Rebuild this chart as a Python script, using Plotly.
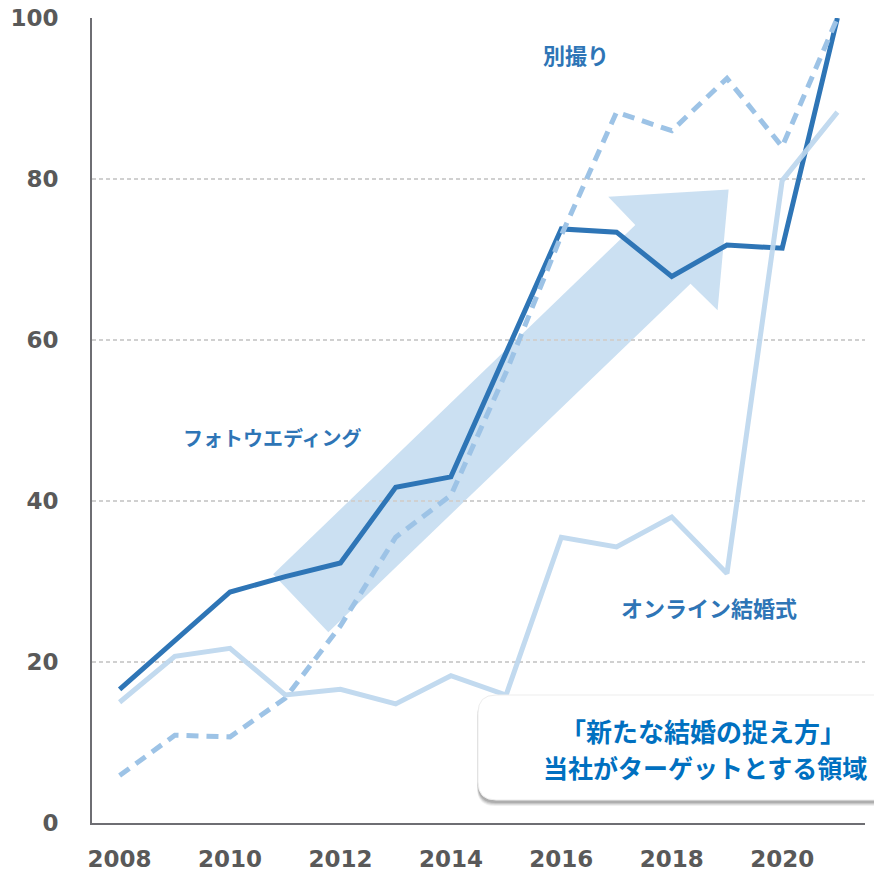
import plotly.graph_objects as go

# ---- data ----
years = [2008, 2009, 2010, 2011, 2012, 2013, 2014, 2015, 2016, 2017, 2018, 2019, 2020, 2021]
photo_wedding = [16.6, 22.7, 28.7, 30.6, 32.3, 41.7, 43.0, 58.4, 73.8, 73.4, 67.9, 71.8, 71.4, 100.0]
betsudori = [5.9, 10.9, 10.7, 15.5, 24.5, 35.5, 40.7, 56.0, 73.0, 88.3, 86.0, 92.5, 84.0, 100.0]
online_wedding = [15.0, 20.7, 21.7, 15.9, 16.6, 14.8, 18.3, 15.9, 35.5, 34.3, 38.0, 31.0, 79.8, 88.3]

tick_vals_x = [2008, 2010, 2012, 2014, 2016, 2018, 2020]
tick_vals_y = [0, 20, 40, 60, 80, 100]

# decorative arrow outline (data coordinates)
arrow_x = [2010.78, 2017.34, 2016.85, 2019.03, 2018.83, 2018.34, 2011.78]
arrow_y = [30.9, 74.3, 77.8, 78.7, 63.7, 67.0, 23.7]

W, H = 874, 880
ML, MR, MT, MB = 92, 9, 18, 57
PW = W - ML - MR
PH = H - MT - MB

JP = "Noto Sans CJK JP"
NUM = "DejaVu Sans"

fig = go.Figure()

fig.add_trace(go.Scatter(x=years, y=photo_wedding, mode="lines",
                         line=dict(color="#2E75B6", width=5), name="フォトウエディング"))
fig.add_trace(go.Scatter(x=years, y=betsudori, mode="lines",
                         line=dict(color="#9DC3E6", width=5, dash="12px,8px"), name="別撮り"))
fig.add_trace(go.Scatter(x=years, y=online_wedding, mode="lines", opacity=0.92,
                         line=dict(color="#BDD7EE", width=5), name="オンライン結婚式"))

# arrow
path = "M " + " L ".join(f"{x},{y}" for x, y in zip(arrow_x, arrow_y)) + " Z"
fig.add_shape(type="path", path=path, xref="x", yref="y", layer="below",
              fillcolor="rgba(189,215,238,0.78)", line=dict(width=0))


def px2paper(px, py):
    return (px - ML) / PW, (MT + PH - py) / PH


def rounded(x0, y0, x1, y1, r):
    def P(x, y):
        a, b = px2paper(x, y)
        return f"{a:.5f},{b:.5f}"
    return (f"M {P(x0 + r, y0)} L {P(x1 - r, y0)} Q {P(x1, y0)} {P(x1, y0 + r)} "
            f"L {P(x1, y1 - r)} Q {P(x1, y1)} {P(x1 - r, y1)} "
            f"L {P(x0 + r, y1)} Q {P(x0, y1)} {P(x0, y1 - r)} "
            f"L {P(x0, y0 + r)} Q {P(x0, y0)} {P(x0 + r, y0)} Z")


# shadow layers
for i, op in enumerate([0.06, 0.08, 0.10, 0.12]):
    d = 6 - i
    fig.add_shape(type="path", xref="paper", yref="paper", layer="above",
                  path=rounded(477 + i * 0.3, 698, 900, 800 + d, 18),
                  fillcolor=f"rgba(0,0,0,{op})", line=dict(width=0))
# box
fig.add_shape(type="path", xref="paper", yref="paper", layer="above",
              path=rounded(478, 695, 900, 800, 18),
              fillcolor="white", line=dict(color="#EDEDED", width=1))

ann_font = dict(family=JP, size=22, color="#2E75B6")
fig.add_annotation(x=2016.26, y=95.5, text="<b>別撮り</b>", showarrow=False, font=ann_font)
fig.add_annotation(x=2010.77, y=47.9, text="<b>フォトウエディング</b>", showarrow=False,
                   font=dict(family=JP, size=20, color="#2E75B6"))
fig.add_annotation(x=2018.68, y=26.8, text="<b>オンライン結婚式</b>", showarrow=False, font=ann_font)

box_font = dict(family=JP, size=25, color="#0070C0")
fig.add_annotation(x=2018.56, y=11.5, text="<b>「新たな結婚の捉え方」</b>", showarrow=False,
                   font=dict(family=JP, size=26, color="#0070C0"))
fig.add_annotation(x=2018.60, y=6.9, text="<b>当社がターゲットとする領域</b>", showarrow=False, font=box_font)

fig.update_xaxes(range=[2007.5, 2021.5], tickvals=tick_vals_x, showgrid=False, zeroline=False,
                 showline=True, linecolor="#6E6E73", linewidth=2, ticks="",
                 ticklabelstandoff=14, ticklabeloverflow="allow",
                 tickfont=dict(family=NUM, size=23, color="#595959", weight="bold"))
fig.update_yaxes(range=[0, 100], tickvals=tick_vals_y, showgrid=True, gridcolor="#D0D0D0",
                 griddash="4px,3px", gridwidth=1.5, zeroline=False,
                 showline=True, linecolor="#6E6E73", linewidth=2, ticks="",
                 ticklabelstandoff=27, ticklabeloverflow="allow",
                 tickfont=dict(family=NUM, size=23, color="#595959", weight="bold"))

fig.update_layout(width=W, height=H, margin=dict(l=ML, r=MR, t=MT, b=MB, autoexpand=False),
                  paper_bgcolor="white", plot_bgcolor="white", showlegend=False)

fig.write_html("out.html", config={"displayModeBar": False},
               post_script="document.body.style.margin='0px';")
